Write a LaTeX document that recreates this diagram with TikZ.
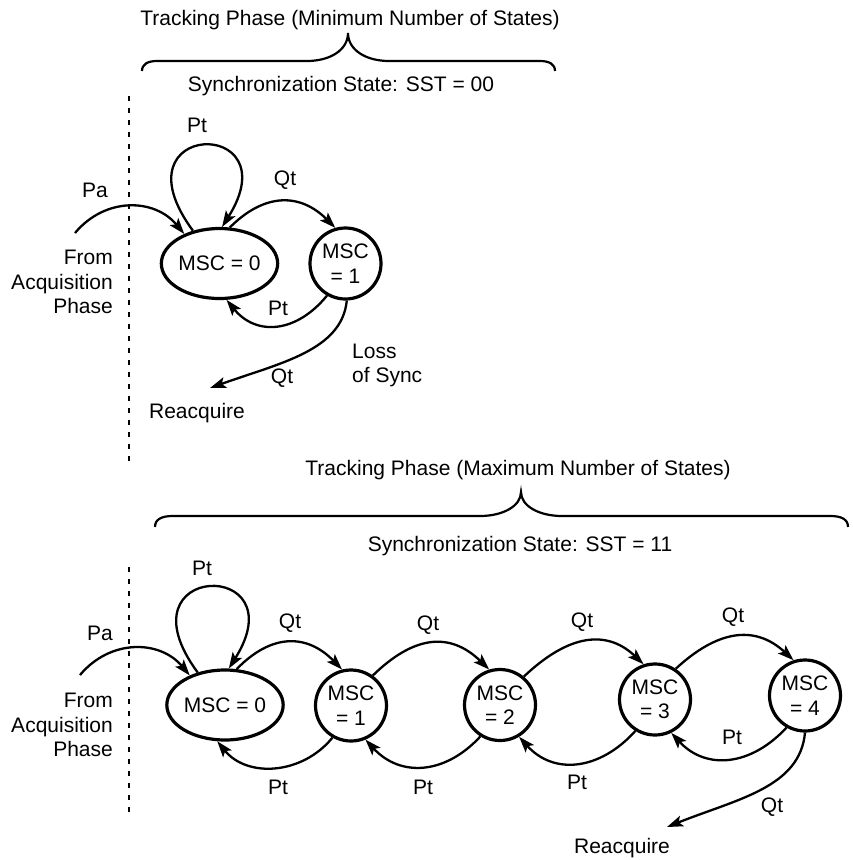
\documentclass[tikz,border=0pt]{standalone}
\usepackage{fontspec}
\setmainfont{Liberation Sans}
\usetikzlibrary{positioning,arrows.meta,shapes.geometric}

\begin{document}
\begin{tikzpicture}[
  x=1pt, y=-1pt,
  font=\fontsize{21}{24.5}\selectfont,
  every node/.style={inner sep=0pt},
  oval/.style={draw, ellipse, line width=3.2pt, minimum width=110pt, minimum height=70pt},
  round/.style={draw, circle, line width=3.2pt, minimum size=71pt, align=center},
  arrow/.style={-{Stealth[length=16pt, width=11pt, inset=3.5pt]}, line width=2.3pt},
  brace/.style={line width=2.2pt},
  divider/.style={line width=2.2pt, dash pattern=on 5pt off 7pt}
]
\useasboundingbox (0,0) rectangle (852,860);

% minimum number of states
\node (title1) at (350,20) {Tracking Phase (Minimum Number of States)};
\draw[brace] (142,71) .. controls (142,64) and (148,61) .. (157,61) -- (307,61)
  .. controls (330,61) and (348,50) .. (348,33)
  .. controls (348,50) and (366,61) .. (389,61) -- (540,61)
  .. controls (549,61) and (555,64) .. (555,71);
\node (sync1) at (341,86) {Synchronization State: SST = 00};
\draw[divider] (129,96) -- (129,462);

\node[oval] (s0) at (219.5,263.5) {MSC = 0};
\node[round] (s1) at (345.5,263.5) {MSC\\= 1};
\node[align=right, anchor=east] (from1) at (113,282) {From\\Acquisition\\Phase};
\node (reacq1) at (197,413) {Reacquire};
\node[align=left, anchor=west] (loss1) at (352,365.5) {Loss\\of Sync};
\coordinate (pa1) at (75,233);
\coordinate (rq1) at (210,388);

\draw[arrow] (pa1) .. controls +(30,-36) and +(-30,-36) .. (s0.140);
\draw[arrow] (s0.129) .. controls +(-82,-111) and +(70,-111) .. (s0.86);
\draw[arrow] (s0.74) .. controls +(35,-35) and +(-35,-35) .. (s1.106);
\draw[arrow] (s1.240) .. controls +(-30,37) and +(30,37) .. (s0.281);
\draw[arrow] (s1.272) .. controls +(-5,50) and +(70,-25) .. (rq1);

\node (pa1lbl) at (95,190) {Pa};
\node (pt1loop) at (197,125) {Pt};
\node (qt1a) at (285,180) {Qt};
\node (pt1a) at (278,308) {Pt};
\node (qt1b) at (282,378) {Qt};

% maximum number of states
\node (title2) at (518,470) {Tracking Phase (Maximum Number of States)};
\draw[brace] (155,527) .. controls (155,519) and (162,516) .. (173,516) -- (480,516)
  .. controls (503,516) and (521,506) .. (521,492)
  .. controls (521,506) and (539,516) .. (562,516) -- (830,516)
  .. controls (841,516) and (848,519) .. (848,527);
\node (sync2) at (520,546) {Synchronization State: SST = 11};
\draw[divider] (129,567) -- (129,817);

\node[oval] (b0) at (225,705) {MSC = 0};
\node[round] (b1) at (351,705.5) {MSC\\= 1};
\node[round] (b2) at (500,705) {MSC\\= 2};
\node[round] (b3) at (655,699.5) {MSC\\= 3};
\node[round] (b4) at (805,695.5) {MSC\\= 4};
\node[align=right, anchor=east] (from2) at (113,725) {From\\Acquisition\\Phase};
\node (reacq2) at (622,848) {Reacquire};
\coordinate (pa2) at (80,675);
\coordinate (rq2) at (667,827);

\draw[arrow] (pa2) .. controls +(30,-36) and +(-30,-36) .. (b0.140);
\draw[arrow] (b0.130) .. controls +(-82,-111) and +(70,-111) .. (b0.84);
\draw[arrow] (b0.72) .. controls +(35,-36) and +(-35,-36) .. (b1.104);
\draw[arrow] (b1.240) .. controls +(-30,37) and +(30,37) .. (b0.258);
\draw[arrow] (b1.54) .. controls +(40,-39) and +(-40,-39) .. (b2.107);
\draw[arrow] (b2.238) .. controls +(-35,38) and +(35,38) .. (b1.293);
\draw[arrow] (b2.50) .. controls +(40,-38) and +(-40,-38) .. (b3.108);
\draw[arrow] (b3.238) .. controls +(-35,39) and +(35,39) .. (b2.301);
\draw[arrow] (b3.56) .. controls +(40,-37) and +(-40,-37) .. (b4.108);
\draw[arrow] (b4.240) .. controls +(-35,38) and +(35,38) .. (b3.296);
\draw[arrow] (b4.270) .. controls +(-5,55) and +(70,-28) .. (rq2);

\node (pa2lbl) at (100,633) {Pa};
\node (pt2loop) at (202,568) {Pt};
\node (qt2a) at (290,623) {Qt};
\node (pt2a) at (278,787) {Pt};
\node (qt2b) at (428,625) {Qt};
\node (pt2b) at (423,787) {Pt};
\node (qt2c) at (582,622) {Qt};
\node (pt2c) at (577,782) {Pt};
\node (qt2d) at (733,617) {Qt};
\node (pt2d) at (732,737) {Pt};
\node (qt2e) at (772,807) {Qt};
\end{tikzpicture}
\end{document}
